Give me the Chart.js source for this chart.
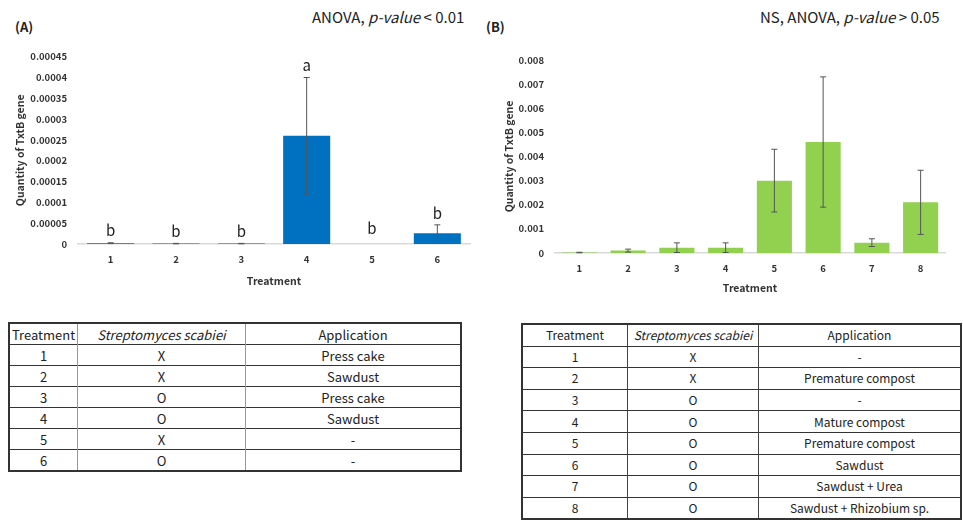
<!DOCTYPE html>
<html>
<head>
<meta charset="utf-8">
<script src="https://cdn.jsdelivr.net/npm/chart.js@4.4.0/dist/chart.umd.min.js"></script>
<style>
  body { margin: 0; width: 963px; height: 526px; background: #fff; position: relative; overflow: hidden;
         font-family: "Noto Sans CJK KR", "Noto Sans", sans-serif; color: #222; }
  .lab { position: absolute; font-weight: bold; font-size: 13px; }
  .stat { position: absolute; font-size: 15px; white-space: nowrap; }
  canvas { position: absolute; }
  table { position: absolute; border-collapse: collapse; font-size: 13px; table-layout: fixed; }
  td { text-align: center; padding: 0; line-height: 1; }
  #tblA { left: 8px; top: 322px; width: 448px; border: 2px solid #333; }
  #tblA td { height: 20px; border-top: 1.5px solid #333; border-left: 1px solid #999; }
  #tblB { left: 521px; top: 323px; width: 435px; border: 2px solid #333; font-size: 12px; }
  #tblB td { height: 20.6px; border-top: 1.5px solid #333; border-left: 1px solid #444; }
</style>
</head>
<body>
<div class="lab" style="left:15px;top:17px">(A)</div>
<div class="stat" style="left:312px;top:6px">ANOVA, <i>p-value</i> &lt; 0.01</div>
<div class="lab" style="left:486px;top:17px">(B)</div>
<div class="stat" style="left:760px;top:6px">NS, ANOVA, <i>p-value</i> &gt; 0.05</div>

<canvas id="chartA" width="480" height="260" style="left:0;top:40px"></canvas>
<canvas id="chartB" width="483" height="270" style="left:480px;top:40px"></canvas>

<table id="tblA"><tbody id="bodyA"></tbody></table>
<table id="tblB"><tbody id="bodyB"></tbody></table>

<script>
// Panel A
var treatA = ['1', '2', '3', '4', '5', '6'];
var meanA = [0.000002, 0.000001, 0.000001, 0.00026, 0, 0.000026];
var errA = [0.000001, 0.0000005, 0.0000005, 0.00014, 0, 0.00002];
var lettersA = ['b', 'b', 'b', 'a', 'b', 'b'];
var tickValsA = [0, 0.00005, 0.0001, 0.00015, 0.0002, 0.00025, 0.0003, 0.00035, 0.0004, 0.00045];
var tickLabsA = ['0', '0.00005', '0.0001', '0.00015', '0.0002', '0.00025', '0.0003', '0.00035', '0.0004', '0.00045'];

// Panel B
var treatB = ['1', '2', '3', '4', '5', '6', '7', '8'];
var meanB = [0.00002, 0.0001, 0.00022, 0.00022, 0.003, 0.0046, 0.00043, 0.0021];
var errB = [0.00001, 0.00006, 0.0002, 0.0002, 0.0013, 0.0027, 0.00016, 0.00133];
var tickValsB = [0, 0.001, 0.002, 0.003, 0.004, 0.005, 0.006, 0.007, 0.008];
var tickLabsB = ['0', '0.001', '0.002', '0.003', '0.004', '0.005', '0.006', '0.007', '0.008'];

// tables
var tableHead = ['Treatment', 'Streptomyces scabiei', 'Application'];
var scabA = ['X', 'X', 'O', 'O', 'X', 'O'];
var appA = ['Press cake', 'Sawdust', 'Press cake', 'Sawdust', '-', '-'];
var scabB = ['X', 'X', 'O', 'O', 'O', 'O', 'O', 'O'];
var appB = ['-', 'Premature compost', '-', 'Mature compost', 'Premature compost', 'Sawdust', 'Sawdust + Urea', 'Sawdust + Rhizobium sp.'];

var FONT = '"Noto Sans CJK KR", "Noto Sans", sans-serif';

function fillTable(id, widths, treat, scab, app) {
  var body = document.getElementById(id);
  var html = '<tr>';
  for (var c = 0; c < 3; c++) {
    var txt = c == 1 ? '<i>' + tableHead[c] + '</i>' : tableHead[c];
    html += '<td style="width:' + widths[c] + 'px">' + txt + '</td>';
  }
  html += '</tr>';
  for (var i = 0; i < treat.length; i++) {
    html += '<tr><td>' + treat[i] + '</td><td>' + scab[i] + '</td><td>' + app[i] + '</td></tr>';
  }
  body.innerHTML = html;
}
fillTable('bodyA', [67, 167, 214], treatA, scabA, appA);
fillTable('bodyB', [104, 130, 201], treatB, scabB, appB);

var errorBars = {
  id: 'errorBars',
  afterDatasetsDraw: function(chart, args, opts) {
    var ctx = chart.ctx;
    var meta = chart.getDatasetMeta(0);
    var y = chart.scales.y;
    ctx.save();
    ctx.strokeStyle = '#555';
    ctx.lineWidth = 1;
    meta.data.forEach(function(bar, i) {
      var m = opts.mean[i], e = opts.err[i];
      var top = y.getPixelForValue(m + e);
      var bot = y.getPixelForValue(Math.max(m - e, 0));
      if (e > 0) {
        ctx.beginPath();
        ctx.moveTo(bar.x, top); ctx.lineTo(bar.x, bot);
        ctx.moveTo(bar.x - 3, top); ctx.lineTo(bar.x + 3, top);
        ctx.moveTo(bar.x - 3, bot); ctx.lineTo(bar.x + 3, bot);
        ctx.stroke();
      }
      if (opts.letters) {
        ctx.fillStyle = '#222';
        ctx.font = '15px ' + FONT;
        ctx.textAlign = 'center';
        ctx.textBaseline = 'middle';
        // a bar with no error bar gets its letter a little higher, as in the figure
        ctx.fillText(opts.letters[i], bar.x, top - (e > 0 ? 12 : 16));
      }
    });
    ctx.restore();
  }
};

function makeChart(id, labels, mean, err, letters, tickVals, tickLabs, color, barPct, pad, yWidth, xHeight, yTitlePad, xTitlePad) {
  return new Chart(document.getElementById(id), {
    type: 'bar',
    data: {
      labels: labels,
      datasets: [{ data: mean, backgroundColor: color, borderWidth: 0 }]
    },
    options: {
      responsive: false,
      animation: false,
      layout: { padding: pad },
      plugins: {
        legend: { display: false },
        tooltip: { enabled: false },
        errorBars: { mean: mean, err: err, letters: letters }
      },
      scales: {
        x: {
          grid: { display: false, drawTicks: false },
          border: { display: true, color: '#d9d9d9', width: 1.5 },
          categoryPercentage: 1,
          barPercentage: barPct,
          ticks: { padding: 10, color: '#333', font: { family: FONT, size: 9.5, weight: 'bold' } },
          title: { display: true, text: 'Treatment', color: '#333', padding: { top: 0, bottom: xTitlePad },
                   font: { family: FONT, size: 10.5, weight: 'bold' } },
          afterFit: function(s) { s.height = xHeight; }
        },
        y: {
          min: tickVals[0],
          max: tickVals[tickVals.length - 1],
          grid: { display: false, drawTicks: false },
          border: { display: false },
          afterBuildTicks: function(s) { s.ticks = tickVals.map(function(v) { return { value: v }; }); },
          ticks: {
            padding: 11, color: '#333', font: { family: FONT, size: 9.5, weight: 'bold' },
            callback: function(v, i) { return tickLabs[i]; }
          },
          title: { display: true, text: 'Quantity of TxtB gene', color: '#333', padding: { top: yTitlePad, bottom: 0 },
                   font: { family: FONT, size: 10.5, weight: 'bold' } },
          afterFit: function(s) { s.width = yWidth; }
        }
      }
    },
    plugins: [errorBars]
  });
}

makeChart('chartA', treatA, meanA, errA, lettersA, tickValsA, tickLabsA, '#0070C0', 0.306,
  { top: 12, right: 10, left: 0, bottom: 0 }, 78, 56, 14, 13);
makeChart('chartB', treatB, meanB, errB, null, tickValsB, tickLabsB, '#92D050', 0.396,
  { top: 20, right: 18, left: 0, bottom: 0 }, 75, 57, 23, 16);
</script>
</body>
</html>
